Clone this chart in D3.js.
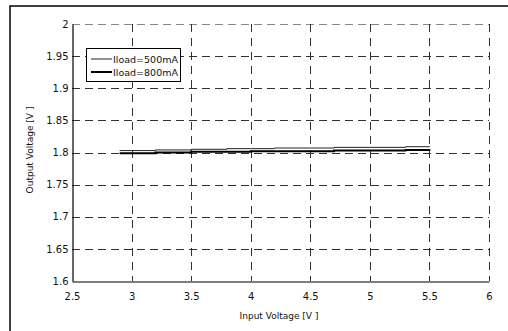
<!DOCTYPE html>
<html>
<head>
<meta charset="utf-8">
<script src="https://cdn.jsdelivr.net/npm/d3@7"></script>
<style>
html,body{margin:0;padding:0;background:#fff;}
svg{display:block;font-family:"DejaVu Sans",sans-serif;}
</style>
</head>
<body>
<svg id="chart" width="508" height="331"></svg>
<script>
const xTicks = [2.5, 3, 3.5, 4, 4.5, 5, 5.5, 6];
const yTicks = [1.6, 1.65, 1.7, 1.75, 1.8, 1.85, 1.9, 1.95, 2];
const vin = [2.9, 3.0, 3.2, 3.5, 3.8, 4.0, 4.2, 4.5, 4.7, 5.0, 5.3, 5.5];
const iload500 = [1.803, 1.803, 1.804, 1.805, 1.806, 1.806, 1.807, 1.807, 1.808, 1.808, 1.809, 1.810];
const iload800 = [1.799, 1.799, 1.800, 1.801, 1.801, 1.802, 1.802, 1.802, 1.803, 1.803, 1.804, 1.805];
const seriesNames = ["Iload=500mA", "Iload=800mA"];

const svg = d3.select("#chart");
const m = {left: 72, right: 489, top: 24, bottom: 281};
const x = d3.scaleLinear().domain([2.5, 6]).range([m.left, m.right]);
const y = d3.scaleLinear().domain([1.6, 2]).range([m.bottom, m.top]);

// outer frame
svg.append("rect").attr("x", 10).attr("y", 6).attr("width", 520).attr("height", 340)
  .attr("fill", "none").attr("stroke", "#000").attr("stroke-width", 1.5);

// grid
const g = svg.append("g");
g.selectAll("line.hg").data(yTicks.filter(d => d > 1.6)).join("line")
  .attr("x1", m.left).attr("x2", m.right)
  .attr("y1", d => Math.round(y(d)) + 0.5).attr("y2", d => Math.round(y(d)) + 0.5)
  .attr("stroke", d => d === 2 ? "#888" : "#333").attr("stroke-width", 1)
  .attr("stroke-dasharray", "8,5");
g.selectAll("line.vg").data(xTicks.filter(d => d > 2.5)).join("line")
  .attr("y1", m.top).attr("y2", m.bottom)
  .attr("x1", d => Math.round(x(d)) + 0.5).attr("x2", d => Math.round(x(d)) + 0.5)
  .attr("stroke", "#333").attr("stroke-width", 1)
  .attr("stroke-dasharray", "8,6");

// axes
const xAxis = d3.axisBottom(x).tickValues(xTicks).tickSize(0).tickPadding(11)
  .tickFormat(d => String(d));
const yAxis = d3.axisLeft(y).tickValues(yTicks).tickSize(0).tickPadding(4)
  .tickFormat(d => String(d));
const gx = svg.append("g").attr("transform", `translate(0,${m.bottom + 0.5})`).call(xAxis);
const gy = svg.append("g").attr("transform", `translate(${m.left + 0.5},0)`).call(yAxis);
[gx, gy].forEach(a => {
  a.select(".domain").attr("stroke", "#000").attr("stroke-width", 1.2);
  a.selectAll("text").attr("font-family", "DejaVu Sans").attr("font-size", 10).attr("fill", "#111");
});

// lines
const line = d3.line().x((d, i) => x(vin[i])).y(d => y(d)).curve(d3.curveStepAfter);
svg.append("path").datum(iload500).attr("d", line)
  .attr("fill", "none").attr("stroke", "#222").attr("stroke-width", 1);
svg.append("path").datum(iload800).attr("d", line)
  .attr("fill", "none").attr("stroke", "#000").attr("stroke-width", 2);

// axis titles
svg.append("text").attr("x", 279).attr("y", 319).attr("text-anchor", "middle")
  .attr("font-size", 9).attr("fill", "#111").text("Input Voltage [V ]");
svg.append("text").attr("transform", "translate(33,150) rotate(-90)").attr("text-anchor", "middle")
  .attr("font-size", 9).attr("fill", "#111").text("Output Voltage [V ]");

// legend
const lg = svg.append("g");
lg.append("rect").attr("x", 86.5).attr("y", 48.5).attr("width", 94).attr("height", 33)
  .attr("fill", "#fff").attr("stroke", "#000").attr("stroke-width", 1);
seriesNames.forEach((n, i) => {
  const yy = 59 + i * 13;
  lg.append("line").attr("x1", 91).attr("x2", 112).attr("y1", yy).attr("y2", yy)
    .attr("stroke", i === 0 ? "#222" : "#000").attr("stroke-width", i === 0 ? 1 : 2);
  lg.append("text").attr("x", 113).attr("y", yy + 3.5).attr("font-size", 9.5)
    .attr("fill", "#111").text(n);
});
</script>
</body>
</html>
